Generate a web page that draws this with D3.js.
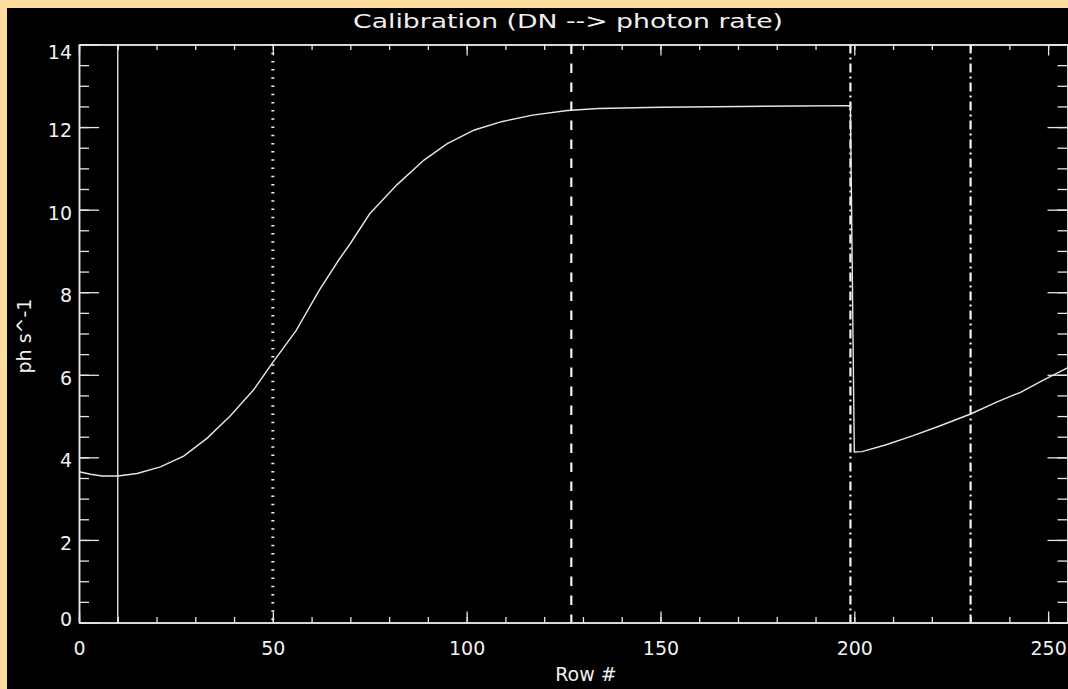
<!DOCTYPE html>
<html>
<head>
<meta charset="utf-8">
<script src="https://cdn.jsdelivr.net/npm/d3@7"></script>
<style>
  body { margin: 0; background: #ffdc9c; }
  svg { display: block; }
  text { font-family: "DejaVu Sans", sans-serif; fill: #f0f0f0; }
</style>
</head>
<body>
<svg id="chart"></svg>
<script>
// values (row number -> photon rate)
var rows = [0, 3, 6, 10, 15, 21, 27, 33, 39, 45, 50, 56, 62, 67, 70, 75, 82, 89, 95, 102,
            109, 117, 126, 134, 150, 171, 185, 199, 200, 202, 208, 215, 222, 230, 237, 243, 249, 255];
var rates = [3.65, 3.59, 3.55, 3.55, 3.61, 3.77, 4.03, 4.46, 5.0, 5.63, 6.3, 7.07, 8.05, 8.78, 9.18, 9.9,
             10.6, 11.2, 11.6, 11.93, 12.13, 12.29, 12.4, 12.45, 12.48, 12.5, 12.51, 12.52,
             4.13, 4.14, 4.3, 4.52, 4.76, 5.05, 5.35, 5.58, 5.88, 6.17];

// marker rows and their line styles
var markRows = [10, 50, 127, 199, 230];
var markDash = [null, "1.5,6.7", "9.5,9.5", "9,4,2,4", "9,4,2,4"];
var markWidth = [1.3, 3, 2.2, 2.2, 2.2];

var xMajor = [0, 50, 100, 150, 200, 250];
var xMinor = d3.range(0, 256, 10);
var yMajor = [0, 2, 4, 6, 8, 10, 12, 14];
var yMinor = d3.range(0, 14.01, 0.5);

var W = 1068, H = 689;
var plotL = 79, plotR = 1067.5, plotT = 44.5, plotB = 622.5;
var ink = "#e6e6e6";

var svg = d3.select("#chart").attr("width", W).attr("height", H);

svg.append("rect").attr("width", W).attr("height", H).attr("fill", "#ffdc9c");
svg.append("rect").attr("x", 7).attr("y", 8).attr("width", W - 7).attr("height", H - 8).attr("fill", "#000");

var x = d3.scaleLinear().domain([0, 255]).range([plotL, plotR]);
var y = d3.scaleLinear().domain([0, 14]).range([plotB, plotT]);

function style(g) {
  g.selectAll("path, line").attr("stroke", ink).attr("stroke-width", 1.3);
  g.select(".domain").attr("stroke-width", 1.5);
}

// bottom / top axes
svg.append("g").attr("transform", "translate(0," + plotB + ")")
    .call(d3.axisBottom(x).tickValues(xMinor).tickSize(-5.5).tickSizeOuter(0).tickFormat(""))
    .call(style);
var xb = svg.append("g").attr("transform", "translate(0," + plotB + ")")
    .call(d3.axisBottom(x).tickValues(xMajor).tickSize(-11).tickSizeOuter(0).tickFormat(d3.format("d")))
    .call(style);
xb.selectAll("text").attr("y", 32).attr("dy", 0).attr("font-size", "19px").attr("fill", "#f0f0f0");

svg.append("g").attr("transform", "translate(0," + plotT + ")")
    .call(d3.axisTop(x).tickValues(xMinor).tickSize(-5.5).tickSizeOuter(0).tickFormat(""))
    .call(style);
svg.append("g").attr("transform", "translate(0," + plotT + ")")
    .call(d3.axisTop(x).tickValues(xMajor).tickSize(-11).tickSizeOuter(0).tickFormat(""))
    .call(style);

// left / right axes
svg.append("g").attr("transform", "translate(" + plotL + ",0)")
    .call(d3.axisLeft(y).tickValues(yMinor).tickSize(-10).tickSizeOuter(0).tickFormat(""))
    .call(style);
var yl = svg.append("g").attr("transform", "translate(" + plotL + ",0)")
    .call(d3.axisLeft(y).tickValues(yMajor).tickSize(-20).tickSizeOuter(0).tickFormat(d3.format("d")))
    .call(style);
yl.selectAll(".tick text")
    .attr("x", -7).attr("dy", 0).attr("font-size", "19px").attr("fill", "#f0f0f0")
    .attr("y", function(d) {
      // end labels sit inside the axis range
      var b = y(d) + 9.5;
      return Math.min(Math.max(b, plotT + 13.5), plotB + 2.5) - y(d);
    });

svg.append("g").attr("transform", "translate(" + plotR + ",0)")
    .call(d3.axisRight(y).tickValues(yMinor).tickSize(-10).tickSizeOuter(0).tickFormat(""))
    .call(style);
svg.append("g").attr("transform", "translate(" + plotR + ",0)")
    .call(d3.axisRight(y).tickValues(yMajor).tickSize(-20).tickSizeOuter(0).tickFormat(""))
    .call(style);

// marker lines
svg.selectAll(".mark")
    .data(markRows)
  .enter().append("line")
    .attr("class", "mark")
    .attr("x1", function(d) { return x(d); })
    .attr("x2", function(d) { return x(d); })
    .attr("y1", plotT)
    .attr("y2", plotB)
    .attr("stroke", "#f4f4f4")
    .attr("stroke-width", function(d, i) { return markWidth[i]; })
    .attr("stroke-dasharray", function(d, i) { return markDash[i]; });

// calibration curve
var line = d3.line()
    .x(function(d) { return x(d[0]); })
    .y(function(d) { return y(d[1]); });

svg.append("path")
    .datum(d3.zip(rows, rates))
    .attr("d", line)
    .attr("fill", "none")
    .attr("stroke", ink)
    .attr("stroke-width", 1.4);

// titles
svg.append("text")
    .attr("x", 568).attr("y", 28)
    .attr("text-anchor", "middle")
    .attr("font-size", "19px")
    .attr("textLength", 430)
    .attr("lengthAdjust", "spacingAndGlyphs")
    .text("Calibration (DN --> photon rate)");

svg.append("text")
    .attr("x", 586).attr("y", 681)
    .attr("text-anchor", "middle")
    .attr("font-size", "19px")
    .text("Row #");

svg.append("text")
    .attr("transform", "translate(31,336) rotate(-90)")
    .attr("text-anchor", "middle")
    .attr("font-size", "19px")
    .text("ph s^-1");
</script>
</body>
</html>
